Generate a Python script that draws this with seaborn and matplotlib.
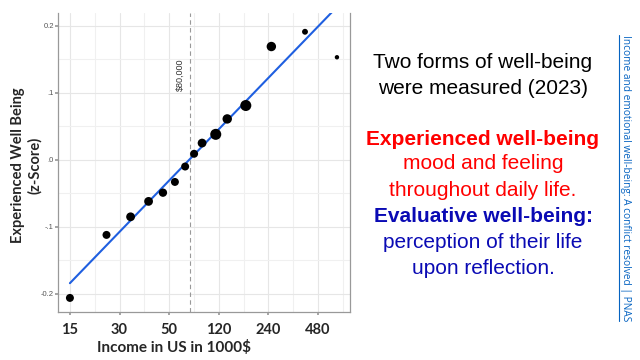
import numpy as np
import pandas as pd
import matplotlib
matplotlib.use("Agg")
import matplotlib.pyplot as plt
import seaborn as sns
from matplotlib.lines import Line2D
from matplotlib.ticker import FixedLocator, NullFormatter

# Data
income_k = [15, 25, 35, 45, 55, 65, 75, 85, 95, 115, 135, 175, 250, 400, 625]
well_being = [-0.206, -0.112, -0.085, -0.062, -0.049, -0.033, -0.010, 0.009,
              0.025, 0.038, 0.061, 0.081, 0.169, 0.191, 0.153]
point_weight = [33, 33, 40, 40, 36, 33, 33, 33, 40, 63, 46, 63, 46, 18, 10]

# fitted line end points (as drawn in the source figure)
fit_income = [15, 625]
fit_value = [-0.184, 0.228]

x_ticks = [15, 30, 60, 120, 240, 480]
x_tick_labels = ["15", "30", "50", "120", "240", "480"]
y_ticks = [-0.2, -0.1, 0.0, 0.1, 0.2]
y_tick_labels = ["-0.2", "-.1", ".0", ".1", "0.2"]
threshold_k = 80

df = pd.DataFrame({"income": income_k, "wb": well_being, "w": point_weight})
fit_df = pd.DataFrame({"income": fit_income, "wb": fit_value})

sns.set_theme(style="white")
plt.rcParams["font.family"] = ["Liberation Sans", "DejaVu Sans"]

fig = plt.figure(figsize=(6.4, 3.6), dpi=100)
ax = fig.add_axes([58 / 640, 48 / 360, 292 / 640, 299 / 360])

ax.set_xscale("log", base=2)
ax.set_xlim(12.7, 750)
ax.set_ylim(-0.227, 0.219)

# grid: major + minor (geometric / arithmetic midpoints)
minor_x = [t * np.sqrt(2) for t in x_ticks]
minor_y = [-0.15, -0.05, 0.05, 0.15]
ax.set_xticks(x_ticks)
ax.set_xticklabels(x_tick_labels)
ax.xaxis.set_minor_locator(FixedLocator(minor_x))
ax.xaxis.set_minor_formatter(NullFormatter())
ax.set_yticks(y_ticks)
ax.set_yticklabels(y_tick_labels)
ax.yaxis.set_minor_locator(FixedLocator(minor_y))
ax.grid(True, which="major", color="#e6e6e6", lw=0.8)
ax.grid(True, which="minor", color="#f0f0f0", lw=0.8)
ax.set_axisbelow(True)

ax.axvline(threshold_k, color="#999999", ls=(0, (4, 3)), lw=0.8, zorder=1)
ax.annotate("$80,000", xy=(threshold_k, 0.127), xytext=(-7, 0),
            textcoords="offset points", rotation=90, ha="center", va="center",
            fontsize=6.5, color="#333333")

sns.lineplot(data=fit_df, x="income", y="wb", color="#1f5fe0", lw=1.5, ax=ax,
             zorder=2)
sns.scatterplot(data=df, x="income", y="wb", size="w", sizes=(10, 63),
                color="black", edgecolor="none", legend=False, ax=ax, zorder=3)

for side in ["left", "bottom", "right"]:
    ax.spines[side].set_color("#999999")
    ax.spines[side].set_linewidth(0.9)
ax.spines["top"].set_visible(False)

ax.tick_params(axis="y", which="major", labelsize=5.5, labelcolor="#555555",
               length=2, color="#999999", left=True, pad=1)
ax.tick_params(axis="x", which="major", length=2, color="#999999", bottom=True,
               pad=6)
ax.tick_params(which="minor", length=0)
for lab in ax.get_xticklabels():
    lab.set_fontfamily("Lato")
    lab.set_fontweight("bold")
    lab.set_fontsize(10.5)

ax.set_xlabel("Income in US in 1000$", fontfamily="Lato", fontweight="bold",
              fontsize=11)
ax.xaxis.set_label_coords(0.397, -0.095)
ax.set_ylabel("Experienced Well Being\n(z-Score)", fontfamily="Lato",
              fontweight="bold", fontsize=10.5, linespacing=1.25)
ax.yaxis.set_label_coords(-0.053, 0.49)

# right-hand text panel
cx = 483 / 640
def put(py, s, color="black", weight="normal"):
    fig.text(cx, 1 - py / 360, s, ha="center", va="center", fontsize=15,
             color=color, fontweight=weight)

put(62, "Two forms of well-being")
put(88, "were measured (2023)")
put(140, "Experienced well-being", color="#ff0000", weight="bold")
put(164, "mood and feeling", color="#ff0000")
put(190, "throughout daily life.", color="#ff0000")
put(216, "Evaluative well-being:", color="#0a0ab4", weight="bold")
put(242, "perception of their life", color="#0a0ab4")
put(268, "upon reflection.", color="#0a0ab4")

link = fig.text(625 / 640, 1 - 178 / 360,
                "Income and emotional well-being: A conflict resolved | PNAS",
                rotation=-90, ha="center", va="center", fontsize=7.3,
                color="#0563c1", fontfamily="Open Sans")
fig.canvas.draw()
bb = link.get_window_extent().transformed(fig.transFigure.inverted())
fig.add_artist(Line2D([bb.x0 - 0.001, bb.x0 - 0.001], [bb.y0, bb.y1],
                      color="#0563c1", lw=0.8, transform=fig.transFigure))

fig.savefig("out.png", dpi=100)
